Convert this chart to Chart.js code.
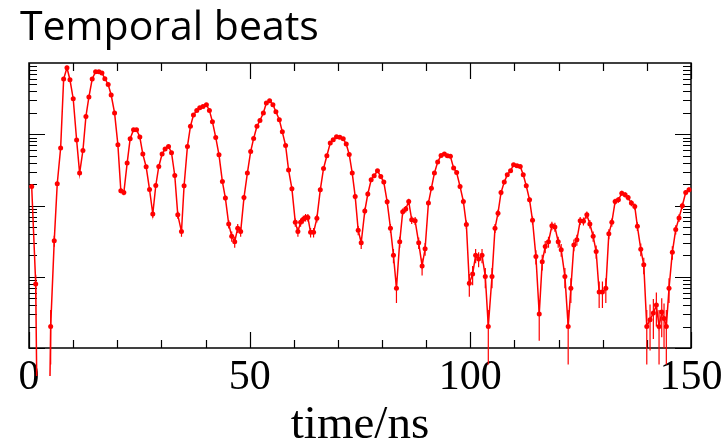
<!DOCTYPE html>
<html>
<head>
<meta charset="utf-8">
<script src="https://cdn.jsdelivr.net/npm/chart.js@4/dist/chart.umd.min.js"></script>
<style>
  html, body { margin: 0; padding: 0; background: #fff; }
  #wrap { width: 727px; height: 446px; }
</style>
</head>
<body>
<div id="wrap"><canvas id="beats"></canvas></div>
<script>
// time in ns, counts per bin, 0 = empty bin
var times = [0.61,1.52,2.2,2.9,3.6,4.2,4.91,5.72,6.40,7.17,7.85,8.60,9.28,10.02,10.79,11.47,
  12.22,12.90,13.57,14.32,15.09,15.84,16.52,17.19,17.94,18.62,19.39,20.14,20.81,21.49,22.24,22.92,
  23.69,24.37,25.11,25.79,26.54,27.31,28.05,28.73,29.41,30.16,30.84,31.61,32.29,33.03,33.71,34.55,
  35.14,35.90,36.58,37.26,38.01,38.69,39.43,40.20,40.88,41.56,42.31,43.05,43.82,44.50,45.25,45.93,
  46.61,47.29,47.96,48.71,49.48,50.23,50.90,51.65,52.33,53.10,53.78,54.52,55.27,55.95,56.72,57.40,
  58.14,58.82,59.57,60.34,60.93,61.54,62.15,62.67,63.19,63.80,64.48,65.23,66.00,66.74,67.49,68.26,
  68.94,69.68,70.43,71.20,71.88,72.56,73.24,73.91,74.59,75.27,76.09,76.77,77.53,78.21,78.96,79.71,
  80.39,81.15,81.90,82.58,83.26,84.00,84.68,85.36,86.04,86.72,87.49,88.30,89.07,89.75,90.50,91.18,
  91.86,92.60,93.37,94.12,94.80,95.48,96.22,96.90,97.67,98.42,99.10,99.77,100.52,101.20,101.88,102.65,
  103.39,104.07,104.91,105.59,106.27,106.95,107.69,108.37,109.12,109.80,110.57,111.31,111.99,112.67,
  113.42,114.09,114.86,115.61,116.29,116.97,117.71,118.48,119.16,119.91,120.59,121.43,122.17,122.78,
  123.46,124.14,124.89,125.63,126.40,127.08,127.83,128.51,129.19,129.93,130.70,131.38,132.06,132.81,
  133.55,134.32,135.07,135.75,136.49,137.26,137.85,138.62,139.30,139.98,140.72,141.47,142.15,142.76,
  143.37,143.89,144.41,145.02,145.77,146.54,147.29,148.03,148.80,149.55];

var counts = [185,7.9,0,0,0,0,2,32,202,640,5960,8590,5820,3150,830,285,
  592,1780,3330,5960,7550,7550,7240,6020,5000,3550,1990,712,161,152,394,865,
  1160,1160,914,527,350,168,76,191,353,527,620,674,550,264,74,43,
  189,674,1290,1860,2160,2360,2460,2600,2160,1500,902,515,217,127,55,37,
  31,48,43,129,285,573,873,1290,1560,1990,2740,2960,2600,2070,1600,1080,
  696,314,172,58,43,58,64,68,68,42,42,66,166,331,499,752,
  838,923,910,865,728,520,285,134,45,30,84,145,230,261,307,255,
  213,113,48,20,6.9,31,82,89,114,63,61,30,14.2,24.7,108,175,
  285,407,504,527,499,490,335,290,185,114,54,8.1,10.9,20,17.8,20,
  10.1,2,10.1,48,78,152,213,270,307,373,361,353,270,189,
  120,62,19.2,3,16.3,26.5,31,52,50,31,23.9,10.1,2,6.9,
  28,33,61,60,74,55,37,22.6,6.1,6.1,6.9,40,58,114,
  120,149,141,129,108,97,51,24.4,14.7,2,2.5,3.1,4,2,
  3.2,2.6,2,6.9,22,46,67,99,152,166];

var xTickLabels = [0, 50, 100, 150];

var points = [];
for (var i = 0; i < times.length; i++) {
    // empty bins go far below the axis so the line drops out of the frame
    points.push({x: times[i], y: counts[i] > 0 ? counts[i] : 0.001});
}

var red = '#ff0000';

// frame with inward ticks like the original plot
var framePlugin = {
    id: 'frame',
    beforeDatasetsDraw: function(chart) {
        var ctx = chart.ctx;
        var a = chart.chartArea;
        var xs = chart.scales.x;
        var ys = chart.scales.y;
        ctx.save();
        ctx.strokeStyle = '#000';
        ctx.lineWidth = 1.5;
        ctx.strokeRect(a.left, a.top, a.right - a.left, a.bottom - a.top);
        ctx.lineWidth = 1.2;
        ctx.beginPath();
        for (var t = 0; t <= 150; t += 10) {
            var px = Math.round(xs.getPixelForValue(t)) + 0.5;
            var len = (t % 50 === 0) ? 16 : 8;
            ctx.moveTo(px, a.bottom); ctx.lineTo(px, a.bottom - len);
            ctx.moveTo(px, a.top); ctx.lineTo(px, a.top + len);
        }
        for (var d = 1; d < 10000; d *= 10) {
            for (var m = 1; m < 10; m++) {
                var py = Math.round(ys.getPixelForValue(d * m)) + 0.5;
                var l = (m === 1) ? 16 : 8;
                ctx.moveTo(a.left, py); ctx.lineTo(a.left + l, py);
                ctx.moveTo(a.right, py); ctx.lineTo(a.right - l, py);
            }
        }
        ctx.stroke();
        ctx.restore();
    },
    afterDatasetsDraw: function(chart) {
        // poisson error bars
        var ctx = chart.ctx;
        var a = chart.chartArea;
        var xs = chart.scales.x;
        var ys = chart.scales.y;
        ctx.save();
        ctx.beginPath();
        ctx.rect(a.left - 3, a.top - 3, a.right - a.left + 6, a.bottom - a.top + 28);
        ctx.clip();
        ctx.strokeStyle = red;
        ctx.lineWidth = 1.2;
        ctx.beginPath();
        for (var i = 0; i < times.length; i++) {
            var c = counts[i];
            if (c <= 0) continue;
            var e = Math.sqrt(c);
            var px = xs.getPixelForValue(times[i]);
            var lo = c - e > 0 ? ys.getPixelForValue(c - e) : a.bottom + 40;
            var hi = ys.getPixelForValue(c + e);
            ctx.moveTo(px, lo); ctx.lineTo(px, hi);
        }
        ctx.stroke();
        ctx.restore();
    }
};

var ctx = document.getElementById('beats');

var beatsChart = new Chart(ctx, {
    type: 'line',
    data: {
        datasets: [{
            data: points,
            borderColor: red,
            backgroundColor: red,
            borderWidth: 1.5,
            tension: 0,
            pointRadius: function(c) { return counts[c.dataIndex] > 0 ? 2.5 : 0; },
            pointBorderWidth: 0,
            pointBackgroundColor: red,
            clip: {left: 3, top: 3, right: 3, bottom: 28}
        }]
    },
    options: {
        responsive: true,
        maintainAspectRatio: false,
        animation: false,
        layout: {
            padding: {left: 20, top: 0, right: 0, bottom: 0}
        },
        plugins: {
            legend: { display: false },
            tooltip: { enabled: false },
            title: {
                display: true,
                text: 'Temporal beats',
                align: 'start',
                color: '#000',
                font: { family: 'Open Sans', size: 41, weight: 'normal', lineHeight: 1 },
                padding: { top: 8, bottom: 14 }
            }
        },
        scales: {
            x: {
                type: 'linear',
                position: 'bottom',
                min: 0,
                max: 150,
                grid: { display: false },
                border: { display: false },
                ticks: {
                    stepSize: 10,
                    autoSkip: false,
                    maxRotation: 0,
                    padding: 1,
                    color: '#000',
                    font: { family: 'Liberation Serif', size: 42, lineHeight: 1 },
                    callback: function(v) {
                        return xTickLabels.indexOf(v) >= 0 ? String(v) : '';
                    }
                },
                title: {
                    display: true,
                    text: 'time/ns',
                    color: '#000',
                    font: { family: 'Liberation Serif', size: 47, lineHeight: 0.7 },
                    padding: { top: 0, bottom: 4 }
                },
                afterFit: function(s) { s.height = 98; }
            },
            y: {
                type: 'logarithmic',
                min: 1,
                max: 10000,
                grid: { display: false },
                border: { display: false },
                ticks: { display: false },
                afterFit: function(s) { s.width = 9; }
            },
            y2: {
                type: 'linear',
                position: 'right',
                grid: { display: false },
                border: { display: false },
                ticks: { display: false },
                afterFit: function(s) { s.width = 36; }
            }
        }
    },
    plugins: [framePlugin]
});
</script>
</body>
</html>
